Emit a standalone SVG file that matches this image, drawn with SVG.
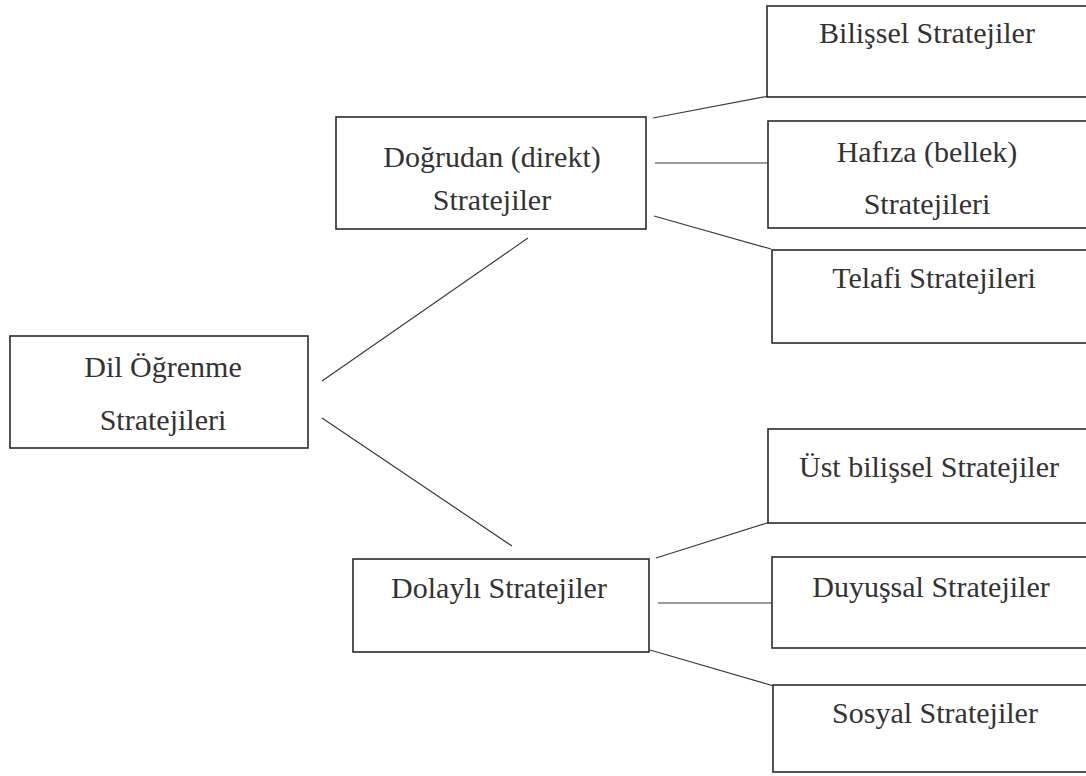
<svg xmlns="http://www.w3.org/2000/svg" width="1086" height="776" viewBox="0 0 1086 776">
<style>
.box{fill:#fff;stroke:#2a2a2a;stroke-width:1.6}
.t{font-family:"Liberation Serif","Times New Roman",serif;font-size:30px;fill:#333;text-anchor:middle}
.c{stroke:#3a3a3a;stroke-width:1.2;fill:none}
</style>
<rect width="1086" height="776" fill="#fff"/>
<g id="connectors">
<line class="c" x1="322" y1="381" x2="528" y2="238"/>
<line class="c" x1="322" y1="418" x2="512" y2="546"/>
<line class="c" x1="653" y1="118" x2="769" y2="96"/>
<line class="c" x1="655" y1="163" x2="768" y2="163"/>
<line class="c" x1="654" y1="216" x2="771" y2="249"/>
<line class="c" x1="656" y1="558" x2="770" y2="522"/>
<line class="c" x1="658" y1="603" x2="772" y2="603"/>
<line class="c" x1="650" y1="650" x2="774" y2="686"/>
</g>
<g id="dil">
<rect class="box" x="10" y="336" width="298" height="112"/>
<text class="t" x="163" y="377">Dil Öğrenme</text>
<text class="t" x="163" y="430">Stratejileri</text>
</g>
<g id="dogrudan">
<rect class="box" x="336" y="117" width="310" height="112"/>
<text class="t" x="492" y="167">Doğrudan (direkt)</text>
<text class="t" x="492" y="210">Stratejiler</text>
</g>
<g id="dolayli">
<rect class="box" x="353" y="559" width="296" height="93"/>
<text class="t" x="499" y="598">Dolaylı Stratejiler</text>
</g>
<g id="bilissel">
<rect class="box" x="767" y="6" width="330" height="91"/>
<text class="t" x="927" y="43">Bilişsel Stratejiler</text>
</g>
<g id="hafiza">
<rect class="box" x="768" y="121" width="330" height="107"/>
<text class="t" x="927" y="162">Hafıza (bellek)</text>
<text class="t" x="927" y="214">Stratejileri</text>
</g>
<g id="telafi">
<rect class="box" x="772" y="250" width="330" height="93"/>
<text class="t" x="934" y="288">Telafi Stratejileri</text>
</g>
<g id="ustbilissel">
<rect class="box" x="768" y="429" width="330" height="94"/>
<text class="t" x="929" y="477">Üst bilişsel Stratejiler</text>
</g>
<g id="duyussal">
<rect class="box" x="772" y="557" width="330" height="91"/>
<text class="t" x="931" y="597">Duyuşsal Stratejiler</text>
</g>
<g id="sosyal">
<rect class="box" x="773" y="685" width="330" height="87"/>
<text class="t" x="935" y="723">Sosyal Stratejiler</text>
</g>
</svg>
